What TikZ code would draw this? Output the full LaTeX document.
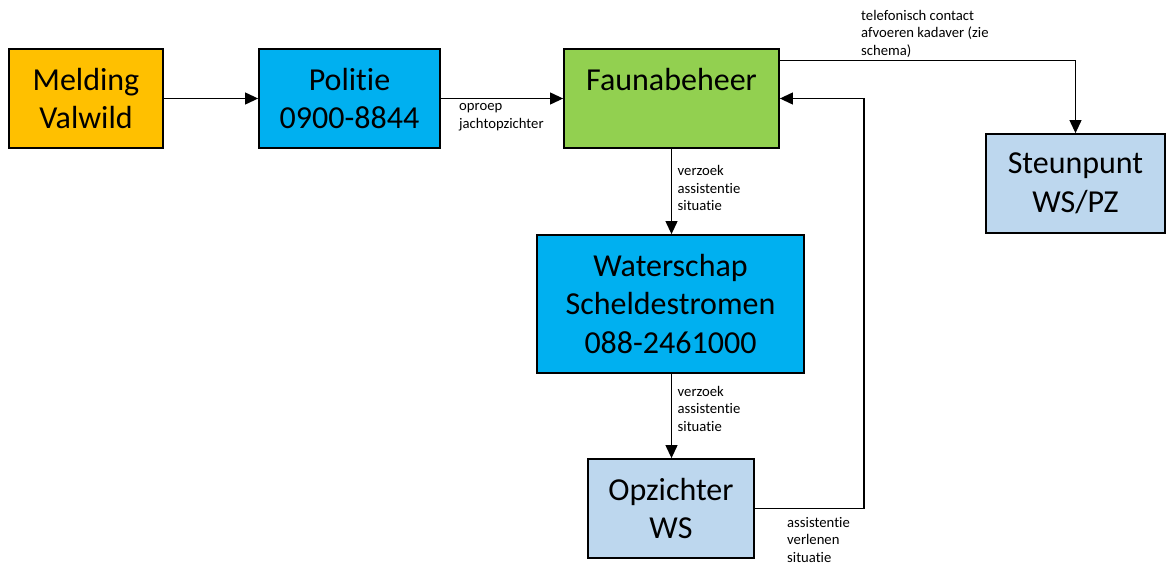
\documentclass[tikz,border=0pt]{standalone}
\usepackage{fontspec}
\setmainfont{Carlito}[Ligatures={NoCommon}]
\usetikzlibrary{arrows.meta}
\definecolor{cOrange}{HTML}{FFC000}
\definecolor{cBlue}{HTML}{00B0F0}
\definecolor{cGreen}{HTML}{92D050}
\definecolor{cLight}{HTML}{BDD7EE}
\begin{document}
\begin{tikzpicture}[x=1pt,y=-1pt,
  box/.style={draw=black,line width=1.8pt,inner sep=0pt,align=center,
    font=\fontsize{32}{38.5}\selectfont},
  arr/.style={draw=black,line width=1.1pt,-{Triangle[length=13pt,width=12pt]}},
  lbl/.style={inner sep=0pt,align=left,anchor=base west,
    font=\fontsize{14.67}{17.5}\selectfont}]
\useasboundingbox (0,0) rectangle (1171,564);

\node[box,fill=cOrange,minimum width=154pt,minimum height=99pt] (meld) at (86,98.5) {Melding\\Valwild};
\node[box,fill=cBlue,minimum width=181pt,minimum height=99pt] (pol) at (349.5,98.5) {Politie\\0900-8844};
\node[box,fill=cGreen,minimum width=215pt,minimum height=99pt] (fauna) at (671.5,98.5) {Faunabeheer\\\phantom{Valwild}};
\node[box,fill=cLight,minimum width=179pt,minimum height=99pt] (steun) at (1075.5,183.5) {Steunpunt\\WS/PZ};
\node[box,fill=cBlue,minimum width=267pt,minimum height=138pt] (water) at (670.5,304) {Waterschap\\Scheldestromen\\088-2461000};
\node[box,fill=cLight,minimum width=166pt,minimum height=99pt] (opz) at (671,508.5) {Opzichter\\WS};

\coordinate (ret) at (864,98.5);

\draw[arr] (meld.east) -- (pol.west);
\draw[arr] (pol.east) -- (fauna.west);
\draw[arr] ([yshift=-12pt]fauna.north east) -| (steun.north);
\draw[arr] (fauna.south) -- (water.north -| fauna.south);
\draw[arr] (water.south -| fauna.south) -- (opz.north -| fauna.south);
\draw[arr] (opz.east) -| (ret) -- (fauna.east);

\node[lbl] (l1) at (459,128.5) {oproep\\jachtopzichter};
\node[lbl] (l2) at (861,55.5) {telefonisch contact\\afvoeren kadaver (zie\\schema)};
\node[lbl] (l3) at (677.5,211) {verzoek\\assistentie\\situatie};
\node[lbl] (l4) at (677.5,431.5) {verzoek\\assistentie\\situatie};
\node[lbl] (l5) at (787,562) {assistentie\\verlenen\\situatie};
\end{tikzpicture}
\end{document}
